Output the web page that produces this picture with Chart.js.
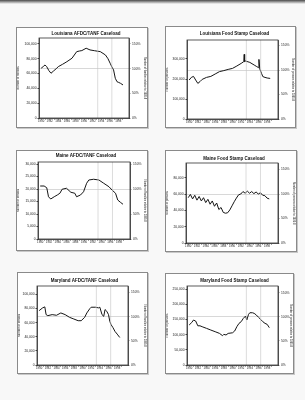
<!DOCTYPE html>
<html>
<head>
<meta charset="utf-8">
<script src="https://cdn.jsdelivr.net/npm/chart.js@4.4.0/dist/chart.umd.min.js"></script>
<style>
    body { margin: 0; width: 305px; height: 400px; background: #f8f8f8; position: relative; overflow: hidden; }
    .scan { position: absolute; left: 0; top: 0; width: 305px; height: 4px; background: linear-gradient(#4a4a4a, #f8f8f8); }
    .box { position: absolute; background: #fff; border: 1px solid #8a8a8a; box-sizing: border-box; box-shadow: 1px 1px 0 #c8c8c8; }
    .box canvas { display: block; }
</style>
</head>
<body>
<div class="scan"></div>

<script>
// --- Datos ---
const yearTicks = [1980, 1981, 1982, 1983, 1984, 1985, 1986, 1987, 1988, 1989, 1990, 1991, 1992, 1993, 1994, 1995, 1996, 1997, 1998, 1999];
const pctTicks = [0, 50, 100, 150];
const refYears = [1993.2, 1996.5];

const laAfdcYears = [1980, 1980.5, 1980.9, 1981.3, 1981.8, 1982.3, 1982.9, 1983.5, 1984, 1985, 1986, 1987.2, 1988.3, 1989, 1989.5, 1990.5, 1991.4, 1992.5, 1993.8, 1995, 1995.6, 1996.1, 1996.5, 1996.9, 1997.3, 1997.7, 1998.1, 1998.5, 1999.1];
const laAfdcFamilies = [67200, 69500, 71600, 69300, 64000, 60400, 63500, 66500, 69300, 72500, 76000, 80700, 89600, 90500, 91000, 94200, 91900, 90800, 89600, 85100, 80000, 73900, 69000, 64900, 53600, 49000, 48000, 46900, 44600];
const laAfdcTicks = [0, 20000, 40000, 60000, 80000, 100000];

const laFsYears = [1980, 1980.5, 1981, 1981.5, 1982, 1982.5, 1983, 1984, 1985, 1986, 1987, 1988, 1989, 1990, 1991, 1992, 1992.6, 1992.7, 1992.8, 1993, 1994, 1995, 1995.6, 1996, 1996.1, 1996.3, 1996.7, 1997, 1997.5, 1998, 1998.7];
const laFsPersons = [195000, 208000, 213000, 195000, 178000, 187000, 198000, 208000, 213000, 225000, 237000, 242000, 248000, 253000, 265000, 278000, 287000, 323000, 287000, 290000, 283000, 270000, 262000, 257000, 298000, 250000, 228000, 212000, 208000, 205000, 203000];
const laFsTicks = [0, 100000, 200000, 300000];

const meAfdcYears = [1980, 1980.9, 1981.5, 1981.9, 1982.4, 1983.2, 1983.9, 1984.5, 1985, 1986, 1987, 1987.9, 1988.3, 1989.2, 1989.9, 1990.6, 1991.1, 1992.2, 1993.4, 1994.5, 1995.7, 1996.4, 1997.2, 1997.7, 1998.3, 1998.9];
const meAfdcFamilies = [21200, 21200, 20500, 16900, 16000, 16900, 17600, 18300, 19900, 20300, 18700, 18300, 16900, 17600, 18900, 22300, 23600, 23900, 23600, 22300, 20900, 19600, 18300, 15600, 14700, 13900];
const meAfdcTicks = [0, 5000, 10000, 15000, 20000, 25000, 30000];

const meFsYears = [1980, 1980.5, 1981, 1981.5, 1982, 1982.5, 1983, 1983.5, 1984, 1984.5, 1985, 1985.5, 1986, 1986.5, 1987, 1987.5, 1988, 1988.5, 1989, 1989.5, 1990, 1990.5, 1991, 1991.5, 1992, 1992.5, 1993, 1993.5, 1994, 1994.5, 1995, 1995.5, 1996, 1996.5, 1997, 1997.5, 1998, 1998.5];
const meFsPersons = [55500, 59500, 54000, 58500, 52500, 57000, 51500, 55500, 49500, 53500, 47500, 51500, 45000, 49000, 41000, 43500, 37500, 36500, 37000, 40500, 45500, 50500, 55000, 59000, 60000, 63000, 61000, 63500, 61000, 63000, 60500, 62500, 60000, 61500, 58500, 58000, 55000, 54000];
const meFsTicks = [0, 20000, 40000, 60000, 80000];

const mdAfdcYears = [1980, 1980.8, 1981.3, 1981.6, 1982, 1983, 1984, 1985, 1986, 1987, 1988, 1989, 1989.7, 1990.5, 1991, 1991.7, 1992, 1993, 1993.7, 1994, 1994.5, 1994.9, 1995.2, 1995.6, 1996, 1996.3, 1996.6, 1997, 1997.5, 1998, 1998.6];
const mdAfdcFamilies = [77100, 81000, 82400, 71400, 70000, 71400, 70500, 73800, 71400, 67600, 65200, 62800, 62800, 67600, 73800, 80000, 81900, 81900, 81000, 81900, 71400, 69000, 78600, 76200, 71400, 61900, 57100, 53300, 47600, 43800, 39000];
const mdAfdcTicks = [0, 20000, 40000, 60000, 80000, 100000];

const mdFsYears = [1980, 1980.6, 1981, 1981.5, 1982, 1982.5, 1983, 1984, 1985, 1986, 1987, 1987.7, 1988, 1988.5, 1989, 1990, 1990.5, 1991, 1991.5, 1992, 1992.5, 1993, 1993.3, 1993.7, 1994, 1994.6, 1995, 1995.5, 1996, 1996.5, 1997, 1997.5, 1998, 1998.5];
const mdFsPersons = [131600, 140000, 148000, 144700, 129000, 129000, 126000, 120600, 115000, 109600, 104000, 96500, 100900, 98700, 104000, 106000, 111800, 126000, 137000, 142500, 153500, 161000, 148000, 166700, 172000, 172000, 170000, 164500, 157000, 150000, 142500, 137000, 133800, 122800];
const mdFsTicks = [0, 50000, 100000, 150000, 200000, 250000];

// Escalas: máximo del eje izquierdo y nivel del 100%
const leftMax = [108000, 395000, 30800, 98000, 112000, 260000];
const pctBase = [66700, 245000, 20000, 60000, 68600, 158000];

const titles = ['Louisiana AFDC/TANF Caseload', 'Louisiana Food Stamp Caseload', 'Maine AFDC/TANF Caseload', 'Maine Food Stamp Caseload', 'Maryland AFDC/TANF Caseload', 'Maryland Food Stamp Caseload'];
const units = ['families', 'persons', 'families', 'persons', 'families', 'persons'];
const seriesX = [laAfdcYears, laFsYears, meAfdcYears, meFsYears, mdAfdcYears, mdFsYears];
const seriesY = [laAfdcFamilies, laFsPersons, meAfdcFamilies, meFsPersons, mdAfdcFamilies, mdFsPersons];
const leftTicks = [laAfdcTicks, laFsTicks, meAfdcTicks, meFsTicks, mdAfdcTicks, mdFsTicks];

// --- Diseño de la página (caja exterior y márgenes del área del gráfico) ---
const boxes = [
    { x: 16,  y: 27,  w: 132, h: 101, l: 23, r: 19, t: 11, b: 10, ty: 7 },
    { x: 165, y: 26,  w: 131, h: 102, l: 22, r: 18, t: 14, b: 9,  ty: 8 },
    { x: 16,  y: 150, w: 132, h: 101, l: 22, r: 18, t: 12, b: 12, ty: 6 },
    { x: 165, y: 150, w: 132, h: 102, l: 21, r: 19, t: 13, b: 9,  ty: 9 },
    { x: 17,  y: 272, w: 131, h: 102, l: 20, r: 20, t: 14, b: 9,  ty: 9 },
    { x: 165, y: 273, w: 129, h: 101, l: 22, r: 16, t: 13, b: 9,  ty: 8 }
];

Chart.defaults.font.family = '"Liberation Sans", Arial, sans-serif';
Chart.defaults.color = '#222';

// Dibuja el título y el marco del área de trazado
const framePlugin = {
    id: 'frame',
    afterDraw(chart, args, opts) {
        const { ctx, chartArea: a } = chart;
        ctx.save();
        ctx.strokeStyle = '#333';
        ctx.lineWidth = 0.8;
        ctx.strokeRect(a.left, a.top, a.right - a.left, a.bottom - a.top);
        ctx.fillStyle = '#111';
        ctx.font = 'bold 4.5px "Liberation Sans", Arial, sans-serif';
        ctx.textAlign = 'center';
        ctx.textBaseline = 'middle';
        ctx.fillText(opts.text, (a.left + a.right) / 2 + 2, opts.y);
        ctx.restore();
    }
};

boxes.forEach((box, i) => {
    const div = document.createElement('div');
    div.className = 'box';
    Object.assign(div.style, { left: box.x + 'px', top: box.y + 'px', width: box.w + 'px', height: box.h + 'px' });
    const canvas = document.createElement('canvas');
    canvas.width = box.w - 2;
    canvas.height = box.h - 2;
    div.appendChild(canvas);
    document.body.appendChild(div);

    const pctMax = leftMax[i] / pctBase[i] * 100;

    const datasets = [{
        data: seriesX[i].map((x, k) => ({ x: x, y: seriesY[i][k] })),
        borderColor: '#151515',
        borderWidth: 1,
        pointRadius: 0,
        tension: 0,
        yAxisID: 'y'
    }];
    refYears.forEach(rx => {
        datasets.unshift({
            data: [{ x: rx, y: 0 }, { x: rx, y: leftMax[i] }],
            borderColor: '#c4c4c4',
            borderWidth: 0.6,
            pointRadius: 0,
            yAxisID: 'y'
        });
    });

    new Chart(canvas, {
        type: 'line',
        data: { datasets: datasets },
        options: {
            responsive: false,
            animation: false,
            layout: { padding: { left: 0, right: 0, top: box.t - 1, bottom: 0 } },
            plugins: {
                legend: { display: false },
                tooltip: { enabled: false },
                frame: { text: titles[i], y: box.ty - 1 }
            },
            scales: {
                x: {
                    type: 'linear',
                    min: 1979.5,
                    max: 2000.5,
                    afterBuildTicks: s => { s.ticks = yearTicks.map(v => ({ value: v })); },
                    afterFit: s => { s.height = box.b - 1; },
                    ticks: {
                        autoSkip: false,
                        maxRotation: 0,
                        padding: 0.5,
                        font: { size: 2.8 },
                        callback: v => (v % 2 === 0 ? String(v) : '')
                    },
                    grid: { color: 'rgba(0,0,0,0)', tickColor: '#444', tickLength: 1.5 },
                    border: { color: '#333', width: 0.8 }
                },
                y: {
                    position: 'left',
                    min: 0,
                    max: leftMax[i],
                    afterBuildTicks: s => { s.ticks = leftTicks[i].map(v => ({ value: v })); },
                    afterFit: s => { s.width = box.l - 1; },
                    ticks: {
                        autoSkip: false,
                        padding: 1,
                        font: { size: 3.3 },
                        callback: v => v.toLocaleString('en-US')
                    },
                    title: { display: true, text: 'Number of ' + units[i], font: { size: 2.8 }, padding: 0 },
                    grid: { color: 'rgba(0,0,0,0)', tickColor: '#444', tickLength: 1.5 },
                    border: { color: '#333', width: 0.8 }
                },
                yPct: {
                    position: 'right',
                    min: 0,
                    max: pctMax,
                    afterBuildTicks: s => { s.ticks = pctTicks.map(v => ({ value: v })); },
                    afterFit: s => { s.width = box.r - 1; },
                    ticks: {
                        autoSkip: false,
                        padding: 1.5,
                        font: { size: 3.3 },
                        callback: v => v + '%'
                    },
                    title: { display: true, text: 'Number of ' + units[i] + ' relative to 1996:8', font: { size: 2.6 }, padding: 0.5 },
                    grid: {
                        color: c => (c.tick && c.tick.value === 100 ? '#bdbdbd' : 'rgba(0,0,0,0)'),
                        lineWidth: 0.6,
                        tickColor: '#444',
                        tickLength: 1.5
                    },
                    border: { color: '#333', width: 0.8 }
                }
            }
        },
        plugins: [framePlugin]
    });
});
</script>
</body>
</html>
